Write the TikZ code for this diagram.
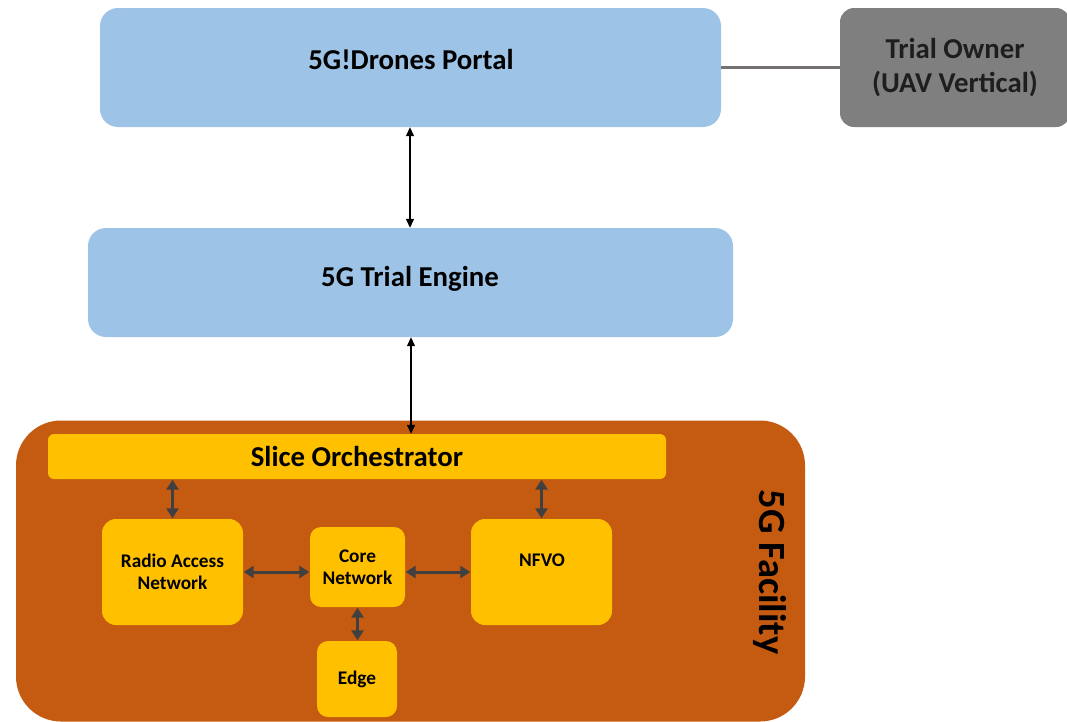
\documentclass[tikz,border=0pt]{standalone}
\usepackage{fontspec}
\setmainfont{Carlito}
\usetikzlibrary{arrows.meta}
\definecolor{blueBox}{HTML}{9DC3E6}
\definecolor{grayBox}{HTML}{7F7F7F}
\definecolor{facility}{HTML}{C55A11}
\definecolor{yellowBox}{HTML}{FFC000}
\definecolor{darkArrow}{HTML}{404040}
\definecolor{lineGray}{HTML}{767171}
\definecolor{textDark}{HTML}{1E1E1E}
\tikzset{
  box/.style={rectangle, inner sep=0pt, font=\bfseries, align=center},
  bigfont/.style={font=\bfseries\fontsize{28.8}{34}\selectfont},
  smallfont/.style={font=\bfseries\fontsize{19.3}{22}\selectfont},
  bluebox/.style={box, fill=blueBox, rounded corners=18pt},
  ybox/.style={box, fill=yellowBox, rounded corners=14pt, smallfont},
  blackarrow/.style={{Triangle[length=9pt,width=8pt]}-{Triangle[length=9pt,width=8pt]}, line width=1.3pt, black},
  grayarrow/.style={{Triangle[length=10pt,width=12pt]}-{Triangle[length=10pt,width=12pt]}, line width=3pt, darkArrow, shorten <=0.5pt, shorten >=0.5pt},
}
\begin{document}
\begin{tikzpicture}[x=1pt,y=-1pt]
\useasboundingbox (0,0) rectangle (1067,721);
% portal
\node[bluebox, minimum width=621pt, minimum height=119pt] (portal) at (410.5,67.5) {};
\node[bigfont] (portaltext) at (411,59) {5G!Drones Portal};
% trial owner
\node[box, fill=grayBox, rounded corners=14pt, minimum width=230pt, minimum height=119pt,
      text=textDark, bigfont] (owner) at (955,67.5) {Trial Owner\\(UAV Vertical)};
\draw[lineGray, line width=2.5pt] (portal.east) -- (owner.west);
% trial engine
\node[bluebox, minimum width=645pt, minimum height=109pt] (engine) at (410.5,282.5) {};
\node[bigfont] (enginetext) at (410,279) {5G Trial Engine};
% facility
\node[box, fill=facility, rounded corners=45pt, minimum width=789pt, minimum height=301pt] (fac) at (410.5,571) {};
\node[rotate=-90, font=\bfseries\fontsize{38.5}{44}\selectfont] (factext) at (770,572) {5G Facility};
% slice orchestrator
\node[box, fill=yellowBox, rounded corners=6pt, minimum width=618pt, minimum height=45pt,
      bigfont] (so) at (357,456.5) {Slice Orchestrator};
% inner boxes
\node[ybox, minimum width=141pt, minimum height=106pt] (ran) at (172.5,572) {Radio Access\\Network};
\node[ybox, minimum width=95pt, minimum height=80pt, rounded corners=11pt] (core) at (357.5,567) {Core\\Network};
\node[ybox, minimum width=141pt, minimum height=106pt] (nfvo) at (541.5,572) {};
\node[smallfont] (nfvotext) at (542,560) {NFVO};
\node[ybox, minimum width=80pt, minimum height=76pt, rounded corners=11pt] (edge) at (357,679) {Edge};
% arrows
\draw[blackarrow] (portal.south -| 410,0) -- (engine.north -| 410,0);
\draw[blackarrow] (engine.south -| 411,0) -- (so.north -| 411,0);
\draw[grayarrow] (so.south -| ran.north) -- (ran.north);
\draw[grayarrow] (so.south -| nfvo.north) -- (nfvo.north);
\draw[grayarrow] (ran.east) -- (ran.east -| core.west);
\draw[grayarrow] (core.east |- nfvo.west) -- (nfvo.west);
\draw[grayarrow] (core.south) -- (edge.north -| core.south);
\end{tikzpicture}
\end{document}
